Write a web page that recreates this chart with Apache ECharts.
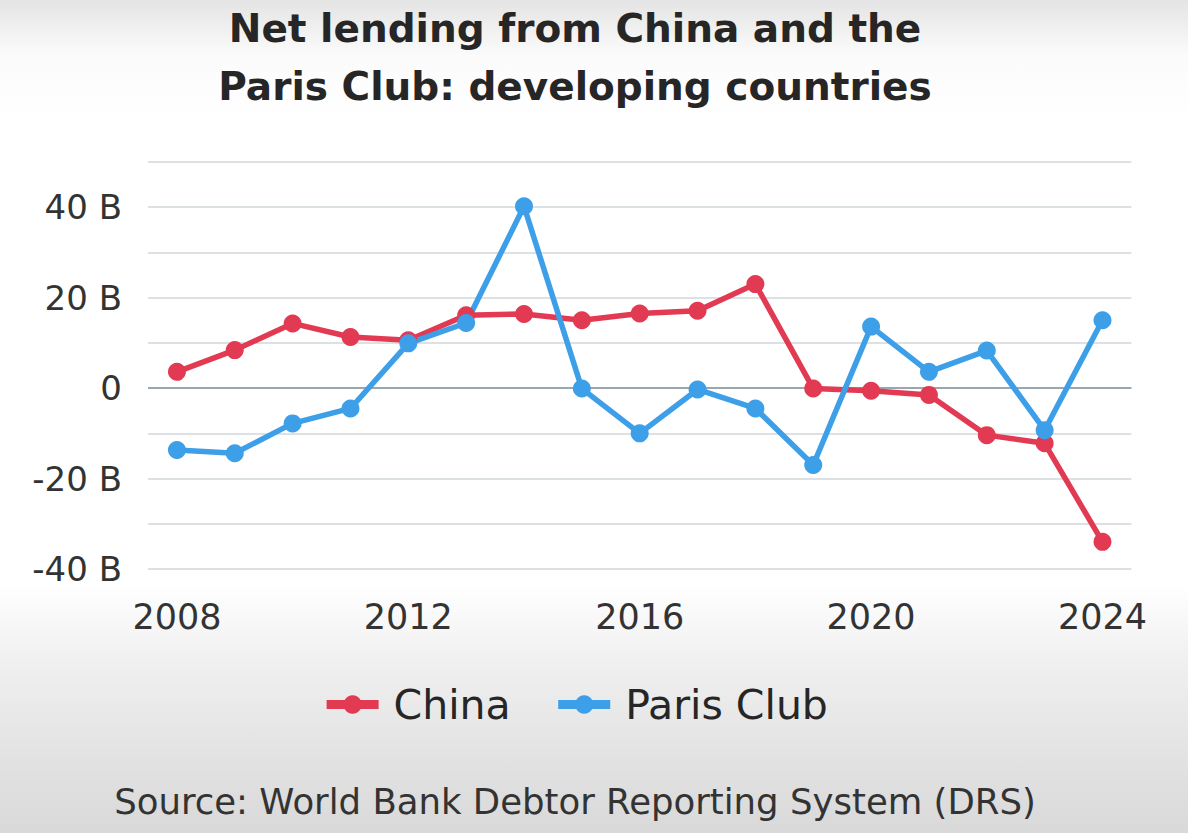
<!DOCTYPE html>
<html>
<head>
<meta charset="utf-8">
<script src="https://cdn.jsdelivr.net/npm/echarts@6/dist/echarts.min.js"></script>
<style>
  html, body { margin: 0; padding: 0; }
  body {
    width: 1188px; height: 833px; overflow: hidden;
    background: linear-gradient(to bottom, #e4e4e4 0px, #fbfbfb 55px, #ffffff 120px, #ffffff 585px, #f0f0f0 660px, #e2e2e2 760px, #d9d9d9 833px);
  }
  /* content in the reference is centred a little left of the page middle */
  #chart { width: 1150px; height: 833px; }
</style>
</head>
<body>
<div id="chart"></div>
<script>
var years = ['2008', '2009', '2010', '2011', '2012', '2013', '2014', '2015', '2016',
             '2017', '2018', '2019', '2020', '2021', '2022', '2023', '2024'];
var china = [3.6, 8.4, 14.3, 11.3, 10.6, 16.1, 16.4, 15.0, 16.5,
             17.1, 23.0, -0.1, -0.6, -1.5, -10.4, -12.2, -34.0];
var parisClub = [-13.7, -14.4, -7.8, -4.5, 9.9, 14.4, 40.2, -0.1, -10.0,
                 -0.3, -4.5, -17.0, 13.6, 3.6, 8.3, -9.3, 15.0];
var titleLines = 'Net lending from China and the\nParis Club: developing countries';
var sourceText = 'Source: World Bank Debtor Reporting System (DRS)';

var red = '#e23a52';
var blue = '#3d9fe8';
var ink = '#262626';
var font = '"DejaVu Sans", sans-serif';

var chart = echarts.init(document.getElementById('chart'), null, { renderer: 'svg' });
chart.setOption({
  animation: false,
  backgroundColor: 'transparent',
  title: [{
    text: titleLines,
    left: 'center',
    top: -6,
    textStyle: { color: ink, fontSize: 39, fontWeight: 'bold', fontFamily: font, lineHeight: 58 }
  }, {
    text: sourceText,
    left: 'center',
    top: 778,
    textStyle: { color: '#333', fontSize: 35.5, fontWeight: 'normal', fontFamily: font }
  }],
  legend: {
    top: 679,
    left: 'center',
    itemWidth: 52,
    itemHeight: 23,
    itemGap: 43,
    lineStyle: { width: 9 },
    textStyle: { color: ink, fontSize: 41, fontFamily: font, padding: [0, 0, 0, 10] },
    data: ['China', 'Paris Club']
  },
  grid: { left: 148, right: 18, top: 162, bottom: 264 },
  xAxis: {
    type: 'category',
    data: years,
    boundaryGap: true,
    axisLine: { show: false },
    axisTick: { show: false },
    axisLabel: { interval: 3, color: '#333', fontSize: 35, fontFamily: font, margin: 30 }
  },
  yAxis: {
    type: 'value',
    min: -40,
    max: 50,
    interval: 10,
    axisLine: { show: false },
    axisTick: { show: false },
    axisLabel: {
      color: '#333', fontSize: 34, fontFamily: font, margin: 26,
      formatter: function(v) {
        if (v === 0) return '0';
        if (v % 20 !== 0) return '';
        return v + ' B';
      }
    },
    splitLine: {
      lineStyle: {
        width: 2,
        color: ['#dce1e4', '#dce1e4', '#dce1e4', '#dce1e4', '#9aa6b0',
                '#dce1e4', '#dce1e4', '#dce1e4', '#dce1e4', '#dce1e4']
      }
    }
  },
  series: [{
    name: 'China',
    type: 'line',
    data: china,
    symbol: 'circle',
    symbolSize: 18,
    lineStyle: { color: red, width: 5.5 },
    itemStyle: { color: red }
  }, {
    name: 'Paris Club',
    type: 'line',
    data: parisClub,
    symbol: 'circle',
    symbolSize: 18,
    lineStyle: { color: blue, width: 5.5 },
    itemStyle: { color: blue }
  }]
});
</script>
</body>
</html>
